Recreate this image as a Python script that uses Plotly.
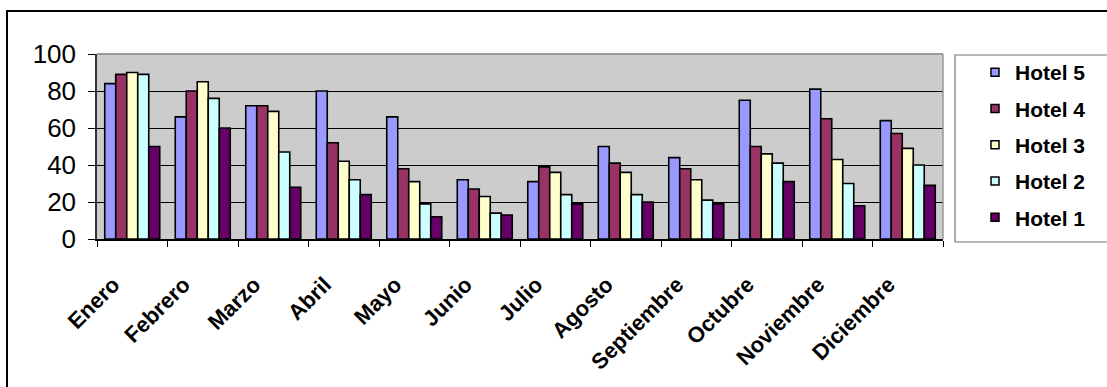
import plotly.graph_objects as go

months = ["Enero", "Febrero", "Marzo", "Abril", "Mayo", "Junio", "Julio",
          "Agosto", "Septiembre", "Octubre", "Noviembre", "Diciembre"]
hotel5 = [84, 66, 72, 80, 66, 32, 31, 50, 44, 75, 81, 64]
hotel4 = [89, 80, 72, 52, 38, 27, 39, 41, 38, 50, 65, 57]
hotel3 = [90, 85, 69, 42, 31, 23, 36, 36, 32, 46, 43, 49]
hotel2 = [89, 76, 47, 32, 19, 14, 24, 24, 21, 41, 30, 40]
hotel1 = [50, 60, 28, 24, 12, 13, 19, 20, 19, 31, 18, 29]

series = [("Hotel 5", hotel5, "#9999FF"),
          ("Hotel 4", hotel4, "#993366"),
          ("Hotel 3", hotel3, "#FFFFCC"),
          ("Hotel 2", hotel2, "#CCFFFF"),
          ("Hotel 1", hotel1, "#660066")]

W, H = 1107, 387
L, R, T, B = 97, 943, 54, 239

fig = go.Figure()
for name, vals, col in series:
    fig.add_trace(go.Bar(x=months, y=vals, name=name, legendgroup=name,
                         showlegend=False,
                         marker=dict(color=col, line=dict(color="black", width=1.6))))
# legend entries with small square keys, as in the original
for name, vals, col in series:
    fig.add_trace(go.Scatter(x=[None], y=[None], name=name, legendgroup=name,
                             mode="markers", showlegend=True,
                             marker=dict(symbol="square", size=8, color=col,
                                         line=dict(color="black", width=1.5))))

def px_x(x):
    return (x - L) / (R - L)

def px_y(y):
    return (B - y) / (B - T)

fig.update_layout(
    width=W, height=H,
    margin=dict(l=L, r=W - R, t=T, b=H - B, pad=0),
    paper_bgcolor="white", plot_bgcolor="#CCCCCC",
    barmode="group", bargap=0.22, bargroupgap=0,
    font=dict(family="Liberation Sans, Arial", color="black"),
    showlegend=True,
    legend=dict(x=px_x(975), y=px_y(52), xanchor="left", yanchor="top",
                font=dict(size=21, family="Liberation Sans, Arial", weight="bold"),
                tracegroupgap=6, bgcolor="rgba(0,0,0,0)", borderwidth=0,
                traceorder="grouped", maxheight=350),
    xaxis=dict(showline=True, linecolor="black", linewidth=2,
               ticks="outside", tickson="boundaries", ticklen=6, tickcolor="black",
               tickangle=-45, tickfont=dict(size=22, weight="bold"),
               ticklabelstandoff=22, ticklabelshift=-19, showgrid=False),
    yaxis=dict(range=[0, 100], tickvals=[0, 20, 40, 60, 80, 100],
               showline=True, linecolor="#333333", linewidth=1.5,
               ticks="outside", ticklen=7, tickcolor="black",
               tickfont=dict(size=26), showgrid=True, gridcolor="black",
               gridwidth=1, zeroline=False, ticklabelstandoff=7),
    shapes=[
        dict(type="line", xref="paper", yref="paper", x0=0, x1=1, y0=1, y1=1,
             line=dict(color="#999999", width=2), layer="above"),
        dict(type="line", xref="paper", yref="paper", x0=1, x1=1, y0=0, y1=1,
             line=dict(color="#999999", width=1.5), layer="above"),
        dict(type="rect", xref="paper", yref="paper",
             x0=px_x(955), x1=px_x(1115), y0=px_y(242), y1=px_y(55),
             line=dict(color="#777777", width=1.2)),
        dict(type="rect", xref="paper", yref="paper",
             x0=px_x(7), x1=px_x(1120), y0=px_y(400), y1=px_y(11),
             line=dict(color="black", width=2)),
    ],
)

fig.write_html("out.html")
